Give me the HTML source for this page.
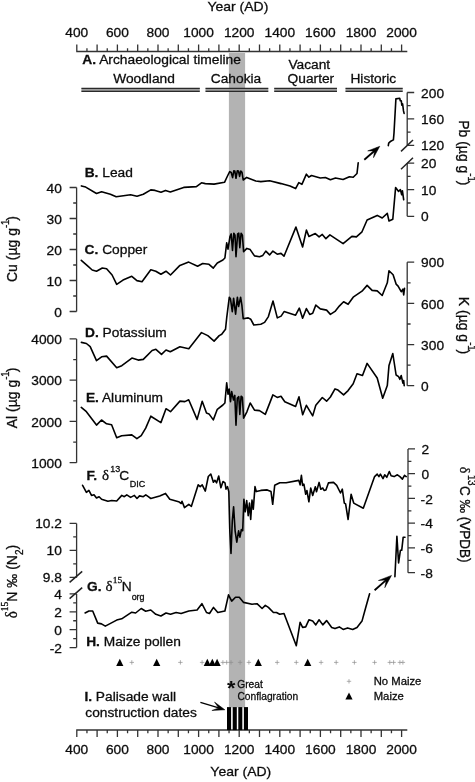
<!DOCTYPE html>
<html><head><meta charset="utf-8"><title>Cahokia geochemical record</title>
<style>html,body{margin:0;padding:0;background:#fff}svg{display:block}text{stroke:#0c0c0c;stroke-width:.28px}</style></head>
<body>
<svg width="475" height="782" viewBox="0 0 475 782" font-family="'Liberation Sans', sans-serif" font-size="12.85" fill="#0c0c0c">
<rect width="475" height="782" fill="#fff"/>
<rect x="228.9" y="53" width="16.2" height="654.4" fill="#b3b3b3"/>
<path d="M76.2 51.50H407.3M76.80 51.50v-7.00M86.95 51.50v-3.30M97.10 51.50v-7.00M107.25 51.50v-3.30M117.40 51.50v-7.00M127.55 51.50v-3.30M137.70 51.50v-7.00M147.85 51.50v-3.30M158.00 51.50v-7.00M168.15 51.50v-3.30M178.30 51.50v-7.00M188.45 51.50v-3.30M198.60 51.50v-7.00M208.75 51.50v-3.30M218.90 51.50v-7.00M229.05 51.50v-3.30M239.20 51.50v-7.00M249.35 51.50v-3.30M259.50 51.50v-7.00M269.65 51.50v-3.30M279.80 51.50v-7.00M289.95 51.50v-3.30M300.10 51.50v-7.00M310.25 51.50v-3.30M320.40 51.50v-7.00M330.55 51.50v-3.30M340.70 51.50v-7.00M350.85 51.50v-3.30M361.00 51.50v-7.00M371.15 51.50v-3.30M381.30 51.50v-7.00M391.45 51.50v-3.30M401.60 51.50v-7.00" fill="none" stroke="#333" stroke-width="1.3"/>
<text transform="translate(76.8,37.4) scale(1.07,1)" text-anchor="middle">400</text>
<text transform="translate(117.4,37.4) scale(1.07,1)" text-anchor="middle">600</text>
<text transform="translate(158.0,37.4) scale(1.07,1)" text-anchor="middle">800</text>
<text transform="translate(198.6,37.4) scale(1.07,1)" text-anchor="middle">1000</text>
<text transform="translate(239.2,37.4) scale(1.07,1)" text-anchor="middle">1200</text>
<text transform="translate(279.8,37.4) scale(1.07,1)" text-anchor="middle">1400</text>
<text transform="translate(320.4,37.4) scale(1.07,1)" text-anchor="middle">1600</text>
<text transform="translate(361.0,37.4) scale(1.07,1)" text-anchor="middle">1800</text>
<text transform="translate(401.6,37.4) scale(1.07,1)" text-anchor="middle">2000</text>
<text transform="translate(237.9,10.8) scale(1.07,1)" text-anchor="middle" font-size="13.08">Year (AD)</text>
<path d="M76.2 730.00H407.3M76.80 730.00v7.00M86.95 730.00v3.30M97.10 730.00v7.00M107.25 730.00v3.30M117.40 730.00v7.00M127.55 730.00v3.30M137.70 730.00v7.00M147.85 730.00v3.30M158.00 730.00v7.00M168.15 730.00v3.30M178.30 730.00v7.00M188.45 730.00v3.30M198.60 730.00v7.00M208.75 730.00v3.30M218.90 730.00v7.00M229.05 730.00v3.30M239.20 730.00v7.00M249.35 730.00v3.30M259.50 730.00v7.00M269.65 730.00v3.30M279.80 730.00v7.00M289.95 730.00v3.30M300.10 730.00v7.00M310.25 730.00v3.30M320.40 730.00v7.00M330.55 730.00v3.30M340.70 730.00v7.00M350.85 730.00v3.30M361.00 730.00v7.00M371.15 730.00v3.30M381.30 730.00v7.00M391.45 730.00v3.30M401.60 730.00v7.00" fill="none" stroke="#333" stroke-width="1.3"/>
<text transform="translate(76.8,754.4) scale(1.07,1)" text-anchor="middle">400</text>
<text transform="translate(117.4,754.4) scale(1.07,1)" text-anchor="middle">600</text>
<text transform="translate(158.0,754.4) scale(1.07,1)" text-anchor="middle">800</text>
<text transform="translate(198.6,754.4) scale(1.07,1)" text-anchor="middle">1000</text>
<text transform="translate(239.2,754.4) scale(1.07,1)" text-anchor="middle">1200</text>
<text transform="translate(279.8,754.4) scale(1.07,1)" text-anchor="middle">1400</text>
<text transform="translate(320.4,754.4) scale(1.07,1)" text-anchor="middle">1600</text>
<text transform="translate(361.0,754.4) scale(1.07,1)" text-anchor="middle">1800</text>
<text transform="translate(401.6,754.4) scale(1.07,1)" text-anchor="middle">2000</text>
<text transform="translate(240.8,776.3) scale(1.07,1)" text-anchor="middle" font-size="13.08">Year (AD)</text>
<text transform="translate(82.3,64.3) scale(1.07,1)" font-size="12.90"><tspan font-weight="bold">A.</tspan> Archaeological timeline</text>
<text transform="translate(144,82.6) scale(1.07,1)" text-anchor="middle">Woodland</text>
<text transform="translate(236,82.6) scale(1.07,1)" text-anchor="middle">Cahokia</text>
<text transform="translate(288.4,69) scale(1.07,1)">Vacant</text>
<text transform="translate(287.6,82.8) scale(1.07,1)">Quarter</text>
<text transform="translate(373.3,82.6) scale(1.07,1)" text-anchor="middle">Historic</text>
<rect x="81.4" y="88.4" width="118.4" height="3" fill="#9c9c9c"/>
<line x1="81.40" y1="88.40" x2="199.80" y2="88.40" stroke="#2a2a2a" stroke-width="1.1"/>
<line x1="81.40" y1="91.40" x2="199.80" y2="91.40" stroke="#2a2a2a" stroke-width="1.1"/>
<rect x="205.5" y="88.4" width="62.8" height="3" fill="#9c9c9c"/>
<line x1="205.50" y1="88.40" x2="268.30" y2="88.40" stroke="#2a2a2a" stroke-width="1.1"/>
<line x1="205.50" y1="91.40" x2="268.30" y2="91.40" stroke="#2a2a2a" stroke-width="1.1"/>
<rect x="274.2" y="88.4" width="62.8" height="3" fill="#9c9c9c"/>
<line x1="274.20" y1="88.40" x2="337.00" y2="88.40" stroke="#2a2a2a" stroke-width="1.1"/>
<line x1="274.20" y1="91.40" x2="337.00" y2="91.40" stroke="#2a2a2a" stroke-width="1.1"/>
<rect x="345.5" y="88.4" width="57.2" height="3" fill="#9c9c9c"/>
<line x1="345.50" y1="88.40" x2="402.70" y2="88.40" stroke="#2a2a2a" stroke-width="1.1"/>
<line x1="345.50" y1="91.40" x2="402.70" y2="91.40" stroke="#2a2a2a" stroke-width="1.1"/>
<path d="M407.20 92.50V145.30M407.20 92.50h7M407.20 118.90h7M407.20 145.30h7M407.20 105.70h3.4M407.20 132.10h3.4" fill="none" stroke="#333" stroke-width="1.3"/>
<text transform="translate(421.1,97.6) scale(1.07,1)">200</text>
<text transform="translate(421.1,124.0) scale(1.07,1)">160</text>
<text transform="translate(421.1,150.4) scale(1.07,1)">120</text>
<path d="M407.20 163.10V216.30M407.20 163.10h7M407.20 189.70h7M407.20 216.30h7M407.20 176.40h3.4M407.20 203.00h3.4" fill="none" stroke="#333" stroke-width="1.3"/>
<text transform="translate(421.1,168.2) scale(1.07,1)">20</text>
<text transform="translate(421.1,194.8) scale(1.07,1)">10</text>
<text transform="translate(421.1,221.4) scale(1.07,1)">0</text>
<line x1="401.00" y1="151.40" x2="413.00" y2="140.00" stroke="#222" stroke-width="1.5"/>
<line x1="401.00" y1="169.20" x2="413.00" y2="157.80" stroke="#222" stroke-width="1.5"/>
<text transform="translate(459.3,152.8) scale(1.07,1) rotate(90)" text-anchor="middle" font-size="14">Pb (µg g<tspan font-size="9.5" dy="-7.76">-1</tspan><tspan dy="7.76" dx="-1">)</tspan></text>
<path d="M76.60 187.50V311.50M76.60 187.50h-7M76.60 218.50h-7M76.60 249.50h-7M76.60 280.50h-7M76.60 311.50h-7M76.60 203.00h-3.4M76.60 234.00h-3.4M76.60 265.00h-3.4M76.60 296.00h-3.4" fill="none" stroke="#333" stroke-width="1.3"/>
<text transform="translate(61.9,192.6) scale(1.07,1)" text-anchor="end">40</text>
<text transform="translate(61.9,223.6) scale(1.07,1)" text-anchor="end">30</text>
<text transform="translate(61.9,254.6) scale(1.07,1)" text-anchor="end">20</text>
<text transform="translate(61.9,285.6) scale(1.07,1)" text-anchor="end">10</text>
<text transform="translate(61.9,316.6) scale(1.07,1)" text-anchor="end">0</text>
<text transform="translate(17.2,249) scale(1.07,1) rotate(-90)" text-anchor="middle" font-size="14">Cu (µg g<tspan font-size="9.5" dy="-7.94">-1</tspan><tspan dy="7.94" dx="-1">)</tspan></text>
<path d="M407.20 262.20V385.70M407.20 262.20h7M407.20 303.40h7M407.20 344.60h7M407.20 385.70h7M407.20 282.80h3.4M407.20 324.00h3.4M407.20 365.15h3.4" fill="none" stroke="#333" stroke-width="1.3"/>
<text transform="translate(421.1,267.3) scale(1.07,1)">900</text>
<text transform="translate(421.1,308.5) scale(1.07,1)">600</text>
<text transform="translate(421.1,349.7) scale(1.07,1)">300</text>
<text transform="translate(421.1,390.8) scale(1.07,1)">0</text>
<text transform="translate(459.3,325.5) scale(1.07,1) rotate(90)" text-anchor="middle" font-size="14">K (µg g<tspan font-size="9.5" dy="-7.76">-1</tspan><tspan dy="7.76" dx="-1">)</tspan></text>
<path d="M76.60 338.90V462.70M76.60 338.90h-7M76.60 380.20h-7M76.60 421.40h-7M76.60 462.70h-7M76.60 359.55h-3.4M76.60 400.80h-3.4M76.60 442.05h-3.4" fill="none" stroke="#333" stroke-width="1.3"/>
<text transform="translate(61.9,344.0) scale(1.07,1)" text-anchor="end">4000</text>
<text transform="translate(61.9,385.3) scale(1.07,1)" text-anchor="end">3000</text>
<text transform="translate(61.9,426.5) scale(1.07,1)" text-anchor="end">2000</text>
<text transform="translate(61.9,467.8) scale(1.07,1)" text-anchor="end">1000</text>
<text transform="translate(17.2,398) scale(1.07,1) rotate(-90)" text-anchor="middle" font-size="14">Al (µg g<tspan font-size="9.5" dy="-7.94">-1</tspan><tspan dy="7.94" dx="-1">)</tspan></text>
<path d="M408.00 448.90V572.70M408.00 448.90h7M408.00 473.66h7M408.00 498.42h7M408.00 523.18h7M408.00 547.94h7M408.00 572.70h7M408.00 461.28h3.4M408.00 486.04h3.4M408.00 510.80h3.4M408.00 535.56h3.4M408.00 560.32h3.4" fill="none" stroke="#333" stroke-width="1.3"/>
<text transform="translate(421.4,454.0) scale(1.07,1)">2</text>
<text transform="translate(421.4,478.8) scale(1.07,1)">0</text>
<text transform="translate(420.6,503.5) scale(1.07,1)">-2</text>
<text transform="translate(420.6,528.3) scale(1.07,1)">-4</text>
<text transform="translate(420.6,553.0) scale(1.07,1)">-6</text>
<text transform="translate(420.6,577.8) scale(1.07,1)">-8</text>
<text transform="translate(460,514.6) scale(1.07,1) rotate(90)" text-anchor="middle" font-size="13.5"><tspan font-family="'Liberation Serif', serif" font-size="14">δ</tspan><tspan font-size="9.5" dy="-7.20" dx="1.5">13</tspan><tspan dy="7.20" dx="0.5">C ‰ (VPDB)</tspan></text>
<path d="M76.60 523.40V577.40M76.60 523.40h-7M76.60 550.40h-7M76.60 577.40h-7M76.60 536.90h-3.4M76.60 563.90h-3.4" fill="none" stroke="#333" stroke-width="1.3"/>
<text transform="translate(61.9,528.1) scale(1.07,1)" text-anchor="end">10.2</text>
<text transform="translate(61.9,555.1) scale(1.07,1)" text-anchor="end">10</text>
<text transform="translate(61.9,582.1) scale(1.07,1)" text-anchor="end">9.8</text>
<path d="M76.60 593.90V647.60M76.60 593.90h-7M76.60 611.80h-7M76.60 629.70h-7M76.60 647.60h-7M76.60 602.85h-3.4M76.60 620.75h-3.4M76.60 638.65h-3.4" fill="none" stroke="#333" stroke-width="1.3"/>
<text transform="translate(61.9,599.0) scale(1.07,1)" text-anchor="end">4</text>
<text transform="translate(61.9,616.9) scale(1.07,1)" text-anchor="end">2</text>
<text transform="translate(61.9,634.8) scale(1.07,1)" text-anchor="end">0</text>
<text transform="translate(61.9,652.7) scale(1.07,1)" text-anchor="end">-2</text>
<line x1="69.60" y1="582.40" x2="82.20" y2="571.40" stroke="#222" stroke-width="1.5"/>
<line x1="69.60" y1="598.60" x2="82.20" y2="587.60" stroke="#222" stroke-width="1.5"/>
<text transform="translate(16.6,581.5) scale(1.07,1) rotate(-90)" text-anchor="middle" font-size="14"><tspan font-family="'Liberation Serif', serif" font-size="15">δ</tspan><tspan font-size="9.5" dy="-8.22" font-family="'Liberation Serif', serif">15</tspan><tspan dy="8.22">N ‰ (N</tspan><tspan font-size="10" dy="5.61">2</tspan><tspan dy="-5.61">)</tspan></text>
<text transform="translate(84.7,176.9) scale(1.07,1)"><tspan font-weight="bold">B.</tspan> Lead</text>
<text transform="translate(84.6,254.3) scale(1.07,1)"><tspan font-weight="bold">C.</tspan> Copper</text>
<text transform="translate(85,336.6) scale(1.07,1)"><tspan font-weight="bold">D.</tspan> Potassium</text>
<text transform="translate(85.9,402) scale(1.07,1)"><tspan font-weight="bold">E.</tspan> Aluminum</text>
<text transform="translate(86.4,479.6) scale(1.07,1)"><tspan font-weight="bold">F.</tspan> <tspan font-family="'Liberation Serif', serif" font-size="14.02" dx="0.93">δ</tspan><tspan font-size="8.41" dy="-8" dx="1.12">13</tspan><tspan dy="8" dx="-0.75">C</tspan><tspan font-size="8.41" dy="7.5" dx="0.37">DIC</tspan></text>
<text transform="translate(87.1,591.4) scale(1.07,1)"><tspan font-weight="bold">G.</tspan> <tspan font-family="'Liberation Serif', serif" font-size="14.02">δ</tspan><tspan font-size="8.88" dy="-8.3" dx="0.28" font-family="'Liberation Serif', serif">15</tspan><tspan dy="8.3" dx="-0.56">N</tspan><tspan font-size="8.41" dy="8.6">org</tspan></text>
<text transform="translate(86.2,645.6) scale(1.07,1)"><tspan font-weight="bold">H.</tspan> Maize pollen</text>
<text transform="translate(84.4,700.6) scale(1.07,1)"><tspan font-weight="bold">I.</tspan> Palisade wall</text>
<text transform="translate(85.3,717.4) scale(1.07,1)">construction dates</text>
<polyline fill="none" stroke="#000" stroke-width="1.6" stroke-linejoin="round" stroke-linecap="round" points="81.4,185.9 85.7,187.1 96.5,193.5 101.6,191.7 110.4,194.2 116.2,196.7 130.6,194.7 137.0,196.2 143.3,194.2 150.8,189.9 155.1,190.4 161.0,192.2 165.5,190.4 170.3,191.9 183.7,187.4 196.4,186.6 201.5,182.8 205.3,183.6 214.1,184.1 224.5,182.3 227.5,176.0 229.7,171.6 231.2,172.5 232.6,177.6 233.8,170.8 234.8,171.0 236.0,178.3 237.3,170.8 238.5,171.0 239.6,176.4 240.8,171.0 242.0,172.3 243.2,180.0 246.7,177.4 255.8,181.0 260.8,181.6 269.7,180.8 281.0,183.6 290.0,186.1 295.6,188.6 298.8,182.6 301.9,184.3 306.4,174.2 308.9,177.2 311.5,175.5 320.3,178.0 325.4,177.5 330.4,179.8 335.5,178.0 343.1,179.5 349.4,176.7 353.2,177.2 357.0,173.5 358.2,162.8"/>
<polyline fill="none" stroke="#000" stroke-width="1.6" stroke-linejoin="round" stroke-linecap="round" points="388.3,145.6 388.7,143.1 390.8,141.2 393.4,139.9 394.0,133.0 395.9,98.9 399.7,98.3 400.3,100.8 401.3,100.8 401.8,105.2 402.6,103.9 403.5,110.9 404.1,113.4"/>
<polyline fill="none" stroke="#000" stroke-width="1.6" stroke-linejoin="round" stroke-linecap="round" points="81.3,260.4 87.6,265.9 92.2,270.0 96.5,271.2 102.3,268.0 106.6,268.7 112.1,275.0 116.7,284.4 123.0,280.1 131.8,276.3 136.9,280.6 142.0,281.8 150.8,269.7 155.8,271.2 160.9,274.3 166.0,271.2 170.5,275.0 179.9,265.4 188.7,262.1 197.6,266.3 202.7,263.5 209.0,264.3 213.3,268.1 217.3,263.0 222.9,260.0 224.9,258.0 226.7,242.8 228.0,249.1 230.0,236.5 231.2,233.9 232.5,250.4 233.8,233.2 235.0,235.2 236.0,256.7 237.6,233.9 238.8,233.2 239.8,247.8 241.1,233.2 242.4,235.2 243.6,251.6 246.9,248.4 250.2,249.6 254.5,255.9 259.5,256.7 262.8,255.4 265.8,251.1 269.6,254.9 272.9,251.1 277.2,254.2 281.0,253.4 284.0,256.2 295.9,227.1 302.6,247.0 306.4,230.1 308.9,236.4 315.3,233.6 319.1,236.9 322.3,234.4 325.9,238.7 329.9,234.9 343.1,243.7 351.9,236.4 356.4,236.9 362.0,231.8 367.1,220.0 377.2,215.4 382.2,218.0 387.3,213.4 389.0,221.0 392.8,219.2 395.6,187.6 398.6,191.4 400.4,189.7 401.7,194.7 402.4,190.7 403.7,199.8"/>
<polyline fill="none" stroke="#000" stroke-width="1.6" stroke-linejoin="round" stroke-linecap="round" points="81.4,342.4 86.4,343.5 90.2,346.7 96.5,360.6 101.6,356.8 106.6,356.1 116.7,367.7 121.8,365.7 131.9,358.1 138.2,360.1 143.3,359.4 152.1,350.5 155.9,349.3 161.5,354.3 166.0,350.0 170.3,351.8 179.9,346.7 188.8,348.7 201.5,332.6 207.8,335.6 214.1,341.1 219.2,335.6 221.7,334.3 225.5,329.3 226.7,317.9 229.3,297.2 230.5,299.0 232.3,311.6 233.6,298.2 235.6,314.1 237.4,297.2 238.6,306.5 240.6,297.2 241.9,305.3 243.2,318.7 248.2,317.9 250.7,319.2 253.8,325.0 260.8,324.2 264.6,322.4 268.4,316.6 273.0,301.0 277.3,317.9 281.1,316.1 284.1,311.6 295.6,315.2 299.3,308.1 302.6,318.2 306.4,308.6 309.7,314.4 312.7,313.2 315.8,305.1 320.3,308.9 326.6,310.1 330.4,314.4 335.0,311.4 339.3,306.1 343.6,301.8 348.1,304.3 353.2,297.2 362.0,291.2 367.1,285.4 372.1,290.4 377.2,290.9 382.2,295.5 387.3,282.8 389.0,270.7 393.1,274.8 396.1,284.1 398.1,286.1 401.2,291.7 402.9,289.2 403.7,295.0 404.5,288.4"/>
<polyline fill="none" stroke="#000" stroke-width="1.6" stroke-linejoin="round" stroke-linecap="round" points="81.3,407.4 86.4,411.7 96.5,425.1 101.5,420.0 106.6,423.8 111.6,424.8 116.7,437.7 121.7,435.7 131.8,434.9 136.9,438.7 141.2,435.7 145.7,428.1 150.8,416.2 160.9,422.6 166.0,408.7 170.5,411.7 179.9,401.1 184.9,401.6 188.7,399.8 197.1,419.4 202.2,401.2 206.5,413.1 209.0,413.9 213.3,419.9 217.3,409.3 222.9,405.0 224.9,403.0 226.7,382.8 228.0,394.2 229.2,389.1 230.5,401.7 231.7,391.6 233.5,400.0 234.8,395.4 236.0,425.2 237.3,398.0 238.8,396.7 239.8,414.4 241.1,396.2 242.4,397.4 243.6,418.2 246.9,411.8 250.2,403.0 254.5,410.1 259.5,410.6 265.3,414.4 272.9,394.9 277.2,397.4 281.0,396.2 284.8,401.7 295.6,406.5 299.0,396.8 302.7,414.8 306.4,405.3 312.7,415.9 315.8,405.3 322.3,397.5 326.6,401.2 330.4,397.0 335.0,388.9 338.0,390.1 343.6,394.9 348.1,390.6 353.2,383.8 357.0,373.7 362.5,375.5 367.1,363.4 377.2,378.0 382.7,398.2 387.3,385.6 389.0,365.4 392.8,353.5 396.1,375.0 398.6,376.7 399.9,379.3 401.2,375.5 402.9,383.1 403.7,380.5 404.2,385.6"/>
<polyline fill="none" stroke="#000" stroke-width="1.6" stroke-linejoin="round" stroke-linecap="round" points="82.6,485.3 86.4,492.4 88.9,490.4 91.5,495.4 94.0,494.7 96.5,498.0 99.1,496.7 101.6,499.2 107.9,501.2 111.7,500.5 116.7,501.0 121.8,495.4 124.3,496.7 126.8,494.9 130.6,497.4 134.4,495.4 137.0,498.5 139.5,495.9 143.3,496.7 145.8,494.9 148.3,496.7 150.8,498.5 159.7,495.9 165.5,493.4 169.8,499.2 178.6,501.7 181.2,503.5 182.0,501.2 184.5,507.6 188.8,504.3 191.4,506.3 198.2,484.8 200.2,486.6 202.2,484.8 205.3,491.1 208.3,476.5 210.8,474.0 213.4,482.3 214.9,480.3 216.6,482.8 218.7,476.0 220.9,487.8 223.0,481.5 225.0,482.8 226.0,489.1 227.5,486.6 228.8,491.6 229.8,530.8 231.0,553.5 232.3,520.7 233.6,506.8 235.1,530.8 236.8,542.2 238.6,530.8 239.9,537.1 241.4,529.5 242.7,530.8 243.9,499.2 245.2,511.8 246.7,500.5 248.2,515.6 249.5,503.0 250.7,519.4 252.0,500.0 253.3,509.3 255.0,486.6 256.3,491.6 260.8,490.4 267.2,489.9 271.0,491.6 272.7,504.3 274.7,485.3 279.8,482.8 286.1,482.8 298.8,480.4 300.1,484.9 301.4,475.3 302.6,485.4 303.9,484.2 305.7,494.3 306.9,490.5 308.9,501.8 310.7,488.0 312.7,495.5 315.3,486.7 316.5,491.7 319.1,482.4 320.8,489.2 322.8,488.0 324.1,490.5 325.9,490.0 328.4,482.9 333.5,482.4 336.7,485.4 340.5,493.0 342.3,489.2 344.3,503.1 345.6,503.9 348.1,519.5 351.1,494.3 353.7,503.1 363.3,508.2 374.6,476.6 377.2,474.1 378.9,476.6 380.4,474.1 383.0,478.6 384.7,474.8 386.8,477.3 389.3,471.5 391.1,475.8 394.1,476.6 397.4,474.8 399.9,476.6 402.4,479.1 404.5,475.3 406.2,476.6"/>
<polyline fill="none" stroke="#000" stroke-width="1.6" stroke-linejoin="round" stroke-linecap="round" points="85.1,613.0 88.9,611.0 92.7,611.0 97.7,623.1 101.5,623.9 105.3,626.1 116.7,620.1 121.7,618.8 131.8,612.2 135.6,613.0 141.2,608.5 145.7,611.2 150.8,610.0 155.8,614.3 160.9,616.0 166.0,613.0 170.5,614.3 176.1,612.5 181.1,613.5 188.8,611.0 197.1,610.0 201.9,603.7 206.5,612.5 209.5,613.5 213.5,607.4 217.8,612.5 224.9,611.0 228.5,594.8 231.7,601.1 235.5,597.3 239.3,597.3 243.6,602.4 252.0,604.2 257.0,603.7 262.1,608.5 265.3,605.4 268.4,607.4 273.4,612.5 276.5,612.5 279.7,614.3 284.0,613.5 296.3,645.7 300.1,622.3 302.6,627.4 305.7,626.9 308.9,619.8 312.7,621.1 315.8,624.9 319.1,619.8 322.8,624.9 326.6,620.6 331.7,627.4 335.0,628.6 339.3,626.9 343.1,629.4 347.6,627.9 352.7,629.4 357.0,627.4 362.0,621.1 365.8,607.2 369.6,593.8"/>
<polyline fill="none" stroke="#000" stroke-width="1.6" stroke-linejoin="round" stroke-linecap="round" points="394.9,576.8 396.9,536.4 398.6,563.0 400.4,550.3 401.7,550.3 403.2,537.2 405.0,537.2"/>
<line x1="364.3" y1="159.7" x2="377.5" y2="148.3" stroke="#000" stroke-width="1.8"/>
<polygon fill="#000" stroke="#000" stroke-width="0.5" stroke-linejoin="round" points="379.8,146.3 373.5,157.7 374.5,150.9 367.7,150.9"/>
<line x1="374.6" y1="590.2" x2="389.2" y2="577.4" stroke="#000" stroke-width="1.8"/>
<polygon fill="#000" stroke="#000" stroke-width="0.5" stroke-linejoin="round" points="391.5,575.4 384.8,587.7 386.2,580.0 378.4,580.5"/>
<line x1="200.4" y1="702.4" x2="222.0" y2="708.9" stroke="#000" stroke-width="1.4"/>
<polygon fill="#000" stroke="#000" stroke-width="0.5" stroke-linejoin="round" points="224.9,709.8 211.9,710.5 218.7,707.9 214.5,702.0"/>
<path d="M129.6 662.4h4.4M131.8 660.2v4.4" stroke="#8e8e8e" stroke-width="0.7" fill="none"/>
<path d="M178.2 662.4h4.4M180.4 660.2v4.4" stroke="#8e8e8e" stroke-width="0.7" fill="none"/>
<path d="M199.9 662.4h4.4M202.1 660.2v4.4" stroke="#8e8e8e" stroke-width="0.7" fill="none"/>
<path d="M220.7 662.4h4.4M222.9 660.2v4.4" stroke="#8e8e8e" stroke-width="0.7" fill="none"/>
<path d="M224.5 662.4h4.4M226.7 660.2v4.4" stroke="#8e8e8e" stroke-width="0.7" fill="none"/>
<path d="M228.8 662.4h4.4M231.0 660.2v4.4" stroke="#8e8e8e" stroke-width="0.7" fill="none"/>
<path d="M237.9 662.4h4.4M240.1 660.2v4.4" stroke="#8e8e8e" stroke-width="0.7" fill="none"/>
<path d="M246.7 662.4h4.4M248.9 660.2v4.4" stroke="#8e8e8e" stroke-width="0.7" fill="none"/>
<path d="M275.0 662.4h4.4M277.2 660.2v4.4" stroke="#8e8e8e" stroke-width="0.7" fill="none"/>
<path d="M294.1 662.4h4.4M296.3 660.2v4.4" stroke="#8e8e8e" stroke-width="0.7" fill="none"/>
<path d="M318.9 662.4h4.4M321.1 660.2v4.4" stroke="#8e8e8e" stroke-width="0.7" fill="none"/>
<path d="M334.0 662.4h4.4M336.2 660.2v4.4" stroke="#8e8e8e" stroke-width="0.7" fill="none"/>
<path d="M352.2 662.4h4.4M354.4 660.2v4.4" stroke="#8e8e8e" stroke-width="0.7" fill="none"/>
<path d="M372.4 662.4h4.4M374.6 660.2v4.4" stroke="#8e8e8e" stroke-width="0.7" fill="none"/>
<path d="M387.6 662.4h4.4M389.8 660.2v4.4" stroke="#8e8e8e" stroke-width="0.7" fill="none"/>
<path d="M391.4 662.4h4.4M393.6 660.2v4.4" stroke="#8e8e8e" stroke-width="0.7" fill="none"/>
<path d="M397.7 662.4h4.4M399.9 660.2v4.4" stroke="#8e8e8e" stroke-width="0.7" fill="none"/>
<path d="M400.7 662.4h4.4M402.9 660.2v4.4" stroke="#8e8e8e" stroke-width="0.7" fill="none"/>
<path d="M116.2 666.0L123.4 666.0L119.8 658.8Z" fill="#000"/>
<path d="M153.1 666.0L160.3 666.0L156.7 658.8Z" fill="#000"/>
<path d="M203.7 666.0L210.9 666.0L207.3 658.8Z" fill="#000"/>
<path d="M208.7 666.0L215.9 666.0L212.3 658.8Z" fill="#000"/>
<path d="M213.5 666.0L220.7 666.0L217.1 658.8Z" fill="#000"/>
<path d="M254.7 666.0L261.9 666.0L258.3 658.8Z" fill="#000"/>
<path d="M304.1 666.0L311.3 666.0L307.7 658.8Z" fill="#000"/>
<path d="M346.8 681.3h4.4M349.0 679.1v4.4" stroke="#8e8e8e" stroke-width="0.7" fill="none"/>
<path d="M345.4 699.6L352.6 699.6L349.0 692.4Z" fill="#000"/>
<text transform="translate(373.7,685.2) scale(1.07,1)" font-size="10.56">No Maize</text>
<text transform="translate(373.7,700) scale(1.07,1)" font-size="10.56">Maize</text>
<text transform="translate(231.2,695.4) scale(1.07,1)" font-size="20.09" font-weight="bold" text-anchor="middle" style="stroke:none">*</text>
<text font-size="10.6" transform="translate(237.2,687.6) scale(0.965,1)">Great</text>
<text font-size="10.6" transform="translate(237.4,699.5) scale(0.965,1)">Conflagration</text>
<rect x="227.0" y="707.1" width="4.1" height="23" fill="#000"/>
<rect x="232.7" y="707.1" width="4.1" height="23" fill="#000"/>
<rect x="238.3" y="707.1" width="4.0" height="23" fill="#000"/>
<rect x="243.9" y="707.1" width="4.1" height="23" fill="#000"/>
</svg>
</body></html>
